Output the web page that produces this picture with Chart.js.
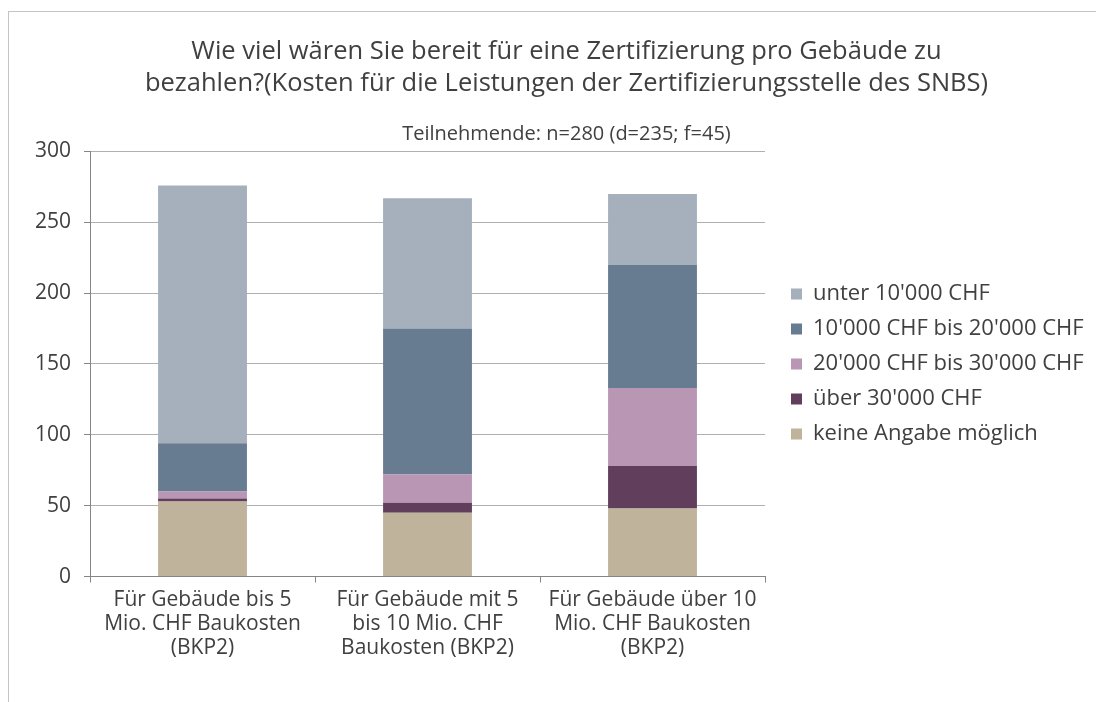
<!DOCTYPE html>
<html>
<head>
<meta charset="utf-8">
<script src="https://cdn.jsdelivr.net/npm/chart.js@4/dist/chart.umd.min.js"></script>
<style>
  html, body { margin: 0; padding: 0; background: #ffffff; }
  #wrap { position: relative; width: 1096px; height: 702px; overflow: hidden; }
  #frame { position: absolute; left: 8px; top: 11px; width: 1200px; height: 800px;
           border-top: 1px solid #c4c4c4; border-left: 1px solid #c4c4c4; }
  #c { position: absolute; left: 0; top: 0; }
</style>
</head>
<body>
<div id="wrap">
  <div id="frame"></div>
  <canvas id="c" width="1096" height="702"></canvas>
</div>
<script>
const categories = [
  ["Für Gebäude bis 5", "Mio. CHF Baukosten", "(BKP2)"],
  ["Für Gebäude mit 5", "bis 10 Mio. CHF", "Baukosten (BKP2)"],
  ["Für Gebäude über 10", "Mio. CHF Baukosten", "(BKP2)"]
];
const keineAngabe   = [53, 45, 48];
const ueber30000    = [2, 7, 30];
const von20bis30000 = [5, 20, 55];
const von10bis20000 = [34, 103, 87];
const unter10000    = [182, 92, 50];
const seriesNames = [
  "keine Angabe möglich",
  "über 30'000 CHF",
  "20'000 CHF bis 30'000 CHF",
  "10'000 CHF bis 20'000 CHF",
  "unter 10'000 CHF"
];
const seriesColors = ["#bfb39c", "#613f5c", "#b996b3", "#687c91", "#a5b0bc"];
const yTicks = [0, 50, 100, 150, 200, 250, 300];
const titleLines = [
  "Wie viel wären Sie bereit für eine Zertifizierung pro Gebäude zu",
  "bezahlen?(Kosten für die Leistungen der Zertifizierungsstelle des SNBS)"
];
const subtitleText = "Teilnehmende: n=280 (d=235; f=45)";

const seriesValues = [keineAngabe, ueber30000, von20bis30000, von10bis20000, unter10000];
const datasets = seriesValues.map((vals, i) => ({
  label: seriesNames[i],
  data: vals,
  backgroundColor: seriesColors[i],
  borderWidth: 0,
  barPercentage: 0.395,
  categoryPercentage: 1.0
}));

const FONT = "'Open Sans', 'Noto Sans', sans-serif";
const TXT = "#404040";

// place the legend beside the plot area (gap between plot and legend keys)
const legendPlace = {
  id: 'legendPlace',
  afterLayout(chart) {
    const lg = chart.legend, ca = chart.chartArea;
    if (!lg) return;
    const w = lg.right - lg.left;
    lg.left = ca.right + 13;
    lg.right = lg.left + w;
    lg.top = ca.top;
    lg.bottom = ca.bottom;
  }
};

new Chart(document.getElementById('c'), {
  type: 'bar',
  data: { labels: categories, datasets: datasets },
  plugins: [legendPlace],
  options: {
    responsive: false,
    animation: false,
    devicePixelRatio: 1,
    layout: { padding: { left: 22, right: -15, top: 0, bottom: 37 } },
    plugins: {
      title: {
        display: true,
        text: titleLines,
        color: TXT,
        font: { family: FONT, size: 25.5, weight: 'normal', lineHeight: 1.255 },
        padding: { top: 36, bottom: 22 }
      },
      subtitle: {
        display: true,
        text: subtitleText,
        color: TXT,
        font: { family: FONT, size: 20, weight: 'normal', lineHeight: 1.2 },
        padding: { top: 0, bottom: 5.4 }
      },
      legend: {
        position: 'right',
        reverse: true,
        maxWidth: 360,
        labels: {
          color: TXT,
          font: { family: FONT, size: 22 },
          boxWidth: 11,
          boxHeight: 11,
          padding: 13
        }
      },
      tooltip: { enabled: false }
    },
    scales: {
      x: {
        stacked: true,
        afterFit(scale) { scale.paddingLeft = 89; scale.paddingRight = 331; },
        grid: {
          offset: true,
          drawOnChartArea: false,
          drawTicks: true,
          tickLength: 6,
          tickColor: '#868686'
        },
        border: { color: '#868686', width: 1 },
        ticks: {
          color: TXT,
          font: { family: FONT, size: 21, lineHeight: 1.15 },
          padding: 5,
          maxRotation: 0,
          autoSkip: false
        }
      },
      y: {
        stacked: true,
        min: 0,
        max: 300,
        afterBuildTicks(scale) { scale.ticks = yTicks.map(v => ({ value: v })); },
        grid: {
          color: '#b0b0b0',
          lineWidth: 1,
          tickLength: 6,
          tickColor: '#868686'
        },
        border: { color: '#868686', width: 1 },
        ticks: {
          color: TXT,
          font: { family: FONT, size: 21 },
          padding: 13
        }
      }
    }
  }
});
</script>
</body>
</html>
